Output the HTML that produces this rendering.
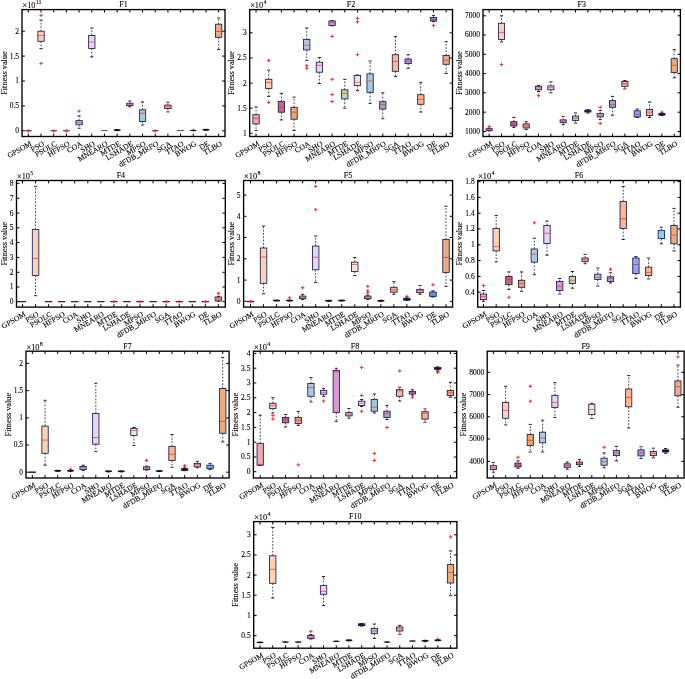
<!DOCTYPE html>
<html lang="en"><head><meta charset="utf-8"><title>Boxplots F1-F10</title>
<style>
html,body{margin:0;padding:0;background:#fff}
body{width:685px;height:679px;overflow:hidden}
svg{display:block}
text{font-family:"Liberation Serif", "DejaVu Serif", serif;fill:#000;stroke:#000;stroke-width:0.1px}
.t{font-size:7.5px}
.ti{font-size:8px}
.xl{font-size:7.7px}
.yl{font-size:8.3px}
.ex{font-size:8.3px}
.ax{fill:none;stroke:#000;stroke-width:1.35}
.tk{fill:none;stroke:#000;stroke-width:1}
.b{stroke:#1a1a5e;stroke-width:0.85}
.m{stroke:#ff1a1a;stroke-width:0.75;stroke-opacity:0.85;fill:none}
.w{stroke:#111;stroke-width:0.75;stroke-dasharray:1.8 1.5;fill:none}
.c{stroke:#111;stroke-width:0.9;fill:none}
.o{stroke:#ff1a1a;stroke-width:0.9;fill:none}
</style></head><body>
<svg width="685" height="679" viewBox="0 0 685 679">
<rect width="685" height="679" fill="#fff"/>
<g>
<path d="M25.27 130.8H31.42" stroke="#4a3580" stroke-width="1.1" stroke-linecap="round"/>
<path d="M25.97 130.8H30.72" stroke="#8a2850" stroke-width="0.5"/>
<path class="o" d="M26.64 130.8H30.04M28.34 129.1V132.5"/>
<path class="w" d="M41.03 31.2V20.1"/>
<path class="w" d="M41.03 41.3V48.7"/>
<path class="c" d="M39.43 20.1H42.63M39.43 48.7H42.63"/>
<rect class="b" x="37.86" y="31.2" width="6.34" height="10.1" fill="#f9d3b4"/>
<path class="m" d="M38.36 35.6H43.7"/>
<path class="o" d="M39.33 15.4H42.73M41.03 13.7V17.1"/>
<path class="o" d="M39.33 63.4H42.73M41.03 61.7V65.1"/>
<path d="M50.65 130.8H56.79" stroke="#4a3580" stroke-width="1.1" stroke-linecap="round"/>
<path d="M51.35 130.8H56.09" stroke="#8a2850" stroke-width="0.5"/>
<path class="o" d="M52.02 130.8H55.42M53.72 129.1V132.5"/>
<path d="M63.33 130.8H69.48" stroke="#4a3580" stroke-width="1.1" stroke-linecap="round"/>
<path d="M64.03 130.8H68.78" stroke="#8a2850" stroke-width="0.5"/>
<path class="o" d="M64.71 130.8H68.11M66.41 129.1V132.5"/>
<path class="w" d="M79.09 120.6V115.9"/>
<path class="w" d="M79.09 124.8V128.2"/>
<path class="c" d="M77.49 115.9H80.69M77.49 128.2H80.69"/>
<rect class="b" x="75.92" y="120.6" width="6.34" height="4.2" fill="#a9cbe2"/>
<path class="m" d="M76.42 122.6H81.77"/>
<path class="o" d="M77.39 111.2H80.79M79.09 109.5V112.9"/>
<path class="w" d="M91.78 35.4V28"/>
<path class="w" d="M91.78 48.5V56.9"/>
<path class="c" d="M90.18 28H93.38M90.18 56.9H93.38"/>
<rect class="b" x="88.61" y="35.4" width="6.34" height="13.1" fill="#e6d6ec"/>
<path class="m" d="M89.11 42H94.45"/>
<path d="M101.4 130.6H107.54" stroke="#6a3a78" stroke-width="0.9" stroke-linecap="round"/>
<path d="M102.1 130.6H106.84" stroke="#8a2850" stroke-width="0.5"/>
<ellipse cx="117.16" cy="130.1" rx="3.57" ry="1.1" fill="#0e0e2c"/>
<path class="w" d="M129.84 103.3V101"/>
<path class="w" d="M129.84 105.6V106.8"/>
<path class="c" d="M128.24 101H131.44M128.24 106.8H131.44"/>
<rect class="b" x="126.67" y="103.3" width="6.34" height="2.3" fill="#f0e9d2"/>
<path class="m" d="M127.17 104.4H132.52"/>
<path class="w" d="M142.53 109.8V101.9"/>
<path class="w" d="M142.53 121.5V125"/>
<path class="c" d="M140.93 101.9H144.13M140.93 125H144.13"/>
<rect class="b" x="139.36" y="109.8" width="6.34" height="11.7" fill="#a2cad8"/>
<path class="m" d="M139.86 113.3H145.2"/>
<path d="M152.15 130.8H158.29" stroke="#4a3580" stroke-width="1.1" stroke-linecap="round"/>
<path d="M152.85 130.8H157.59" stroke="#8a2850" stroke-width="0.5"/>
<path class="o" d="M153.52 130.8H156.92M155.22 129.1V132.5"/>
<path class="w" d="M167.91 105.1V102.2"/>
<path class="w" d="M167.91 108.6V111.9"/>
<path class="c" d="M166.31 102.2H169.51M166.31 111.9H169.51"/>
<rect class="b" x="164.73" y="105.1" width="6.34" height="3.5" fill="#fbb98b"/>
<path class="m" d="M165.23 106.8H170.58"/>
<path d="M177.52 130.5H183.67" stroke="#6a3a78" stroke-width="0.9" stroke-linecap="round"/>
<path d="M178.22 130.5H182.97" stroke="#8a2850" stroke-width="0.5"/>
<path class="o" d="M191.58 130.3H194.98M193.28 128.6V132"/>
<ellipse cx="193.28" cy="130.4" rx="3.57" ry="0.65" fill="#0e0e2c"/>
<ellipse cx="205.97" cy="129.8" rx="3.57" ry="1.1" fill="#0e0e2c"/>
<path class="w" d="M218.66 24.2V18"/>
<path class="w" d="M218.66 37.3V49.6"/>
<path class="c" d="M217.06 18H220.26M217.06 49.6H220.26"/>
<rect class="b" x="215.48" y="24.2" width="6.34" height="13.1" fill="#e9ad7c"/>
<path class="m" d="M215.98 31.5H221.33"/>
<rect class="ax" x="22" y="9.6" width="203" height="126.9"/>
<path class="tk" d="M28.34 136.5v-2.9M28.34 9.6v2.9M41.03 136.5v-2.9M41.03 9.6v2.9M53.72 136.5v-2.9M53.72 9.6v2.9M66.41 136.5v-2.9M66.41 9.6v2.9M79.09 136.5v-2.9M79.09 9.6v2.9M91.78 136.5v-2.9M91.78 9.6v2.9M104.47 136.5v-2.9M104.47 9.6v2.9M117.16 136.5v-2.9M117.16 9.6v2.9M129.84 136.5v-2.9M129.84 9.6v2.9M142.53 136.5v-2.9M142.53 9.6v2.9M155.22 136.5v-2.9M155.22 9.6v2.9M167.91 136.5v-2.9M167.91 9.6v2.9M180.59 136.5v-2.9M180.59 9.6v2.9M193.28 136.5v-2.9M193.28 9.6v2.9M205.97 136.5v-2.9M205.97 9.6v2.9M218.66 136.5v-2.9M218.66 9.6v2.9M22 31.2h2.9M225 31.2h-2.9M22 56.1h2.9M225 56.1h-2.9M22 81h2.9M225 81h-2.9M22 105.9h2.9M225 105.9h-2.9M22 130.8h2.9M225 130.8h-2.9"/>
<text class="t" x="19" y="33.65" text-anchor="end">2</text>
<text class="t" x="19" y="58.55" text-anchor="end">1.5</text>
<text class="t" x="19" y="83.45" text-anchor="end">1</text>
<text class="t" x="19" y="108.35" text-anchor="end">0.5</text>
<text class="t" x="19" y="133.25" text-anchor="end">0</text>
<text class="xl" transform="translate(32.14 145.1) rotate(-30)" text-anchor="end">GPSOM</text>
<text class="xl" transform="translate(44.83 145.1) rotate(-30)" text-anchor="end">PSO</text>
<text class="xl" transform="translate(57.52 145.1) rotate(-30)" text-anchor="end">PSOLC</text>
<text class="xl" transform="translate(70.21 145.1) rotate(-30)" text-anchor="end">HFPSO</text>
<text class="xl" transform="translate(82.89 145.1) rotate(-30)" text-anchor="end">COA</text>
<text class="xl" transform="translate(95.58 145.1) rotate(-30)" text-anchor="end">SHO</text>
<text class="xl" transform="translate(108.27 145.1) rotate(-30)" text-anchor="end">MNEARO</text>
<text class="xl" transform="translate(120.96 145.1) rotate(-30)" text-anchor="end">MTDE</text>
<text class="xl" transform="translate(133.64 145.1) rotate(-30)" text-anchor="end">LSHADE</text>
<text class="xl" transform="translate(146.33 145.1) rotate(-30)" text-anchor="end">MPSO</text>
<text class="xl" transform="translate(159.02 145.1) rotate(-30)" text-anchor="end">dFDB_MRFO</text>
<text class="xl" transform="translate(171.71 145.1) rotate(-30)" text-anchor="end">SGA</text>
<text class="xl" transform="translate(184.39 145.1) rotate(-30)" text-anchor="end">TTAO</text>
<text class="xl" transform="translate(197.08 145.1) rotate(-30)" text-anchor="end">BWOG</text>
<text class="xl" transform="translate(209.77 145.1) rotate(-30)" text-anchor="end">DE</text>
<text class="xl" transform="translate(222.46 145.1) rotate(-30)" text-anchor="end">TLBO</text>
<text class="ti" x="123.5" y="6.9" text-anchor="middle">F1</text>
<text class="ex" x="22.5" y="8.1">×10<tspan dx="0.3" dy="-3.7" font-size="6">11</tspan></text>
<text class="yl" transform="translate(6.6 73.05) rotate(-90)" text-anchor="middle">Fitness value</text>
</g>
<g>
<path class="w" d="M256.04 114.7V107"/>
<path class="w" d="M256.04 123.9V130.6"/>
<path class="c" d="M254.44 107H257.64M254.44 130.6H257.64"/>
<rect class="b" x="252.87" y="114.7" width="6.34" height="9.2" fill="#f4a6ae"/>
<path class="m" d="M253.37 118.3H258.71"/>
<path class="w" d="M268.71 79.3V70.1"/>
<path class="w" d="M268.71 88.4V96.4"/>
<path class="c" d="M267.11 70.1H270.31M267.11 96.4H270.31"/>
<rect class="b" x="265.54" y="79.3" width="6.34" height="9.1" fill="#f9d3b4"/>
<path class="m" d="M266.04 82.4H271.38"/>
<path class="o" d="M267.01 60.4H270.41M268.71 58.7V62.1"/>
<path class="o" d="M267.01 102.4H270.41M268.71 100.7V104.1"/>
<path class="w" d="M281.39 101.5V93.3"/>
<path class="w" d="M281.39 112.2V119.9"/>
<path class="c" d="M279.79 93.3H282.99M279.79 119.9H282.99"/>
<rect class="b" x="278.22" y="101.5" width="6.34" height="10.7" fill="#c06a80"/>
<path class="m" d="M278.72 107.8H284.06"/>
<path class="w" d="M294.06 107.3V97.1"/>
<path class="w" d="M294.06 119.2V130.4"/>
<path class="c" d="M292.46 97.1H295.66M292.46 130.4H295.66"/>
<rect class="b" x="290.89" y="107.3" width="6.34" height="11.9" fill="#eaa768"/>
<path class="m" d="M291.39 112.2H296.73"/>
<path class="w" d="M306.74 39.4V28"/>
<path class="w" d="M306.74 49.9V60.4"/>
<path class="c" d="M305.14 28H308.34M305.14 60.4H308.34"/>
<rect class="b" x="303.57" y="39.4" width="6.34" height="10.5" fill="#a9cbe2"/>
<path class="m" d="M304.07 45.2H309.41"/>
<path class="o" d="M305.04 65.7H308.44M306.74 64V67.4"/>
<path class="o" d="M305.04 68.3H308.44M306.74 66.6V70"/>
<path class="w" d="M319.41 62.2V57.5"/>
<path class="w" d="M319.41 72.2V83.5"/>
<path class="c" d="M317.81 57.5H321.01M317.81 83.5H321.01"/>
<rect class="b" x="316.24" y="62.2" width="6.34" height="10" fill="#e6d6ec"/>
<path class="m" d="M316.74 65.3H322.08"/>
<path class="w" d="M332.09 21V20.6"/>
<path class="w" d="M332.09 25.4V25.8"/>
<path class="c" d="M330.49 20.6H333.69M330.49 25.8H333.69"/>
<rect class="b" x="328.92" y="21" width="6.34" height="4.4" fill="#d79ad2"/>
<path class="m" d="M329.42 22.8H334.76"/>
<path class="o" d="M330.39 36.4H333.79M332.09 34.7V38.1"/>
<path class="o" d="M330.39 79.4H333.79M332.09 77.7V81.1"/>
<path class="o" d="M330.39 94.5H333.79M332.09 92.8V96.2"/>
<path class="o" d="M330.39 101.5H333.79M332.09 99.8V103.2"/>
<path class="w" d="M344.76 89.8V79.4"/>
<path class="w" d="M344.76 98.9V108.2"/>
<path class="c" d="M343.16 79.4H346.36M343.16 108.2H346.36"/>
<rect class="b" x="341.59" y="89.8" width="6.34" height="9.1" fill="#b9d9b2"/>
<path class="m" d="M342.09 93.3H347.43"/>
<path class="w" d="M357.44 75.4V75"/>
<path class="w" d="M357.44 85.4V90.7"/>
<path class="c" d="M355.84 75H359.04M355.84 90.7H359.04"/>
<rect class="b" x="354.27" y="75.4" width="6.34" height="10" fill="#f0e9d2"/>
<path class="m" d="M354.77 82.2H360.11"/>
<path class="o" d="M355.74 18.4H359.14M357.44 16.7V20.1"/>
<path class="o" d="M355.74 21.9H359.14M357.44 20.2V23.6"/>
<path class="o" d="M355.74 54.7H359.14M357.44 53V56.4"/>
<path class="w" d="M370.11 73.8V61"/>
<path class="w" d="M370.11 92.4V103.4"/>
<path class="c" d="M368.51 61H371.71M368.51 103.4H371.71"/>
<rect class="b" x="366.94" y="73.8" width="6.34" height="18.6" fill="#a2cad8"/>
<path class="m" d="M367.44 81H372.78"/>
<path class="w" d="M382.79 101.7V92.8"/>
<path class="w" d="M382.79 109.1V118.7"/>
<path class="c" d="M381.19 92.8H384.39M381.19 118.7H384.39"/>
<rect class="b" x="379.62" y="101.7" width="6.34" height="7.4" fill="#a2a6c6"/>
<path class="m" d="M380.12 104.7H385.46"/>
<path class="w" d="M395.46 54.7V36.4"/>
<path class="w" d="M395.46 71.3V76.6"/>
<path class="c" d="M393.86 36.4H397.06M393.86 76.6H397.06"/>
<rect class="b" x="392.29" y="54.7" width="6.34" height="16.6" fill="#fbb98b"/>
<path class="m" d="M392.79 61.3H398.13"/>
<path class="w" d="M408.14 59V54.7"/>
<path class="w" d="M408.14 63.6V68.3"/>
<path class="c" d="M406.54 54.7H409.74M406.54 68.3H409.74"/>
<rect class="b" x="404.97" y="59" width="6.34" height="4.6" fill="#94a4e4"/>
<path class="m" d="M405.47 61.3H410.81"/>
<path class="w" d="M420.81 94.7V82.4"/>
<path class="w" d="M420.81 104.3V112"/>
<path class="c" d="M419.21 82.4H422.41M419.21 112H422.41"/>
<rect class="b" x="417.64" y="94.7" width="6.34" height="9.6" fill="#f9b48a"/>
<path class="m" d="M418.14 99.4H423.48"/>
<path class="w" d="M433.49 17.5V15.4"/>
<path class="w" d="M433.49 21V21.6"/>
<path class="c" d="M431.89 15.4H435.09M431.89 21.6H435.09"/>
<rect class="b" x="430.32" y="17.5" width="6.34" height="3.5" fill="#6f9bd0"/>
<path class="m" d="M430.82 19.3H436.16"/>
<path class="o" d="M431.79 25.4H435.19M433.49 23.7V27.1"/>
<path class="w" d="M446.16 55.5V41.7"/>
<path class="w" d="M446.16 64.3V73.5"/>
<path class="c" d="M444.56 41.7H447.76M444.56 73.5H447.76"/>
<rect class="b" x="442.99" y="55.5" width="6.34" height="8.8" fill="#e9ad7c"/>
<path class="m" d="M443.49 60.1H448.83"/>
<rect class="ax" x="249.7" y="9.6" width="202.8" height="126.9"/>
<path class="tk" d="M256.04 136.5v-2.9M256.04 9.6v2.9M268.71 136.5v-2.9M268.71 9.6v2.9M281.39 136.5v-2.9M281.39 9.6v2.9M294.06 136.5v-2.9M294.06 9.6v2.9M306.74 136.5v-2.9M306.74 9.6v2.9M319.41 136.5v-2.9M319.41 9.6v2.9M332.09 136.5v-2.9M332.09 9.6v2.9M344.76 136.5v-2.9M344.76 9.6v2.9M357.44 136.5v-2.9M357.44 9.6v2.9M370.11 136.5v-2.9M370.11 9.6v2.9M382.79 136.5v-2.9M382.79 9.6v2.9M395.46 136.5v-2.9M395.46 9.6v2.9M408.14 136.5v-2.9M408.14 9.6v2.9M420.81 136.5v-2.9M420.81 9.6v2.9M433.49 136.5v-2.9M433.49 9.6v2.9M446.16 136.5v-2.9M446.16 9.6v2.9M249.7 32.8h2.9M452.5 32.8h-2.9M249.7 58h2.9M452.5 58h-2.9M249.7 83.1h2.9M452.5 83.1h-2.9M249.7 108.2h2.9M452.5 108.2h-2.9M249.7 133.2h2.9M452.5 133.2h-2.9"/>
<text class="t" x="246.7" y="35.25" text-anchor="end">3</text>
<text class="t" x="246.7" y="60.45" text-anchor="end">2.5</text>
<text class="t" x="246.7" y="85.55" text-anchor="end">2</text>
<text class="t" x="246.7" y="110.65" text-anchor="end">1.5</text>
<text class="t" x="246.7" y="135.65" text-anchor="end">1</text>
<text class="xl" transform="translate(259.84 145.1) rotate(-30)" text-anchor="end">GPSOM</text>
<text class="xl" transform="translate(272.51 145.1) rotate(-30)" text-anchor="end">PSO</text>
<text class="xl" transform="translate(285.19 145.1) rotate(-30)" text-anchor="end">PSOLC</text>
<text class="xl" transform="translate(297.86 145.1) rotate(-30)" text-anchor="end">HFPSO</text>
<text class="xl" transform="translate(310.54 145.1) rotate(-30)" text-anchor="end">COA</text>
<text class="xl" transform="translate(323.21 145.1) rotate(-30)" text-anchor="end">SHO</text>
<text class="xl" transform="translate(335.89 145.1) rotate(-30)" text-anchor="end">MNEARO</text>
<text class="xl" transform="translate(348.56 145.1) rotate(-30)" text-anchor="end">MTDE</text>
<text class="xl" transform="translate(361.24 145.1) rotate(-30)" text-anchor="end">LSHADE</text>
<text class="xl" transform="translate(373.91 145.1) rotate(-30)" text-anchor="end">MPSO</text>
<text class="xl" transform="translate(386.59 145.1) rotate(-30)" text-anchor="end">dFDB_MRFO</text>
<text class="xl" transform="translate(399.26 145.1) rotate(-30)" text-anchor="end">SGA</text>
<text class="xl" transform="translate(411.94 145.1) rotate(-30)" text-anchor="end">TTAO</text>
<text class="xl" transform="translate(424.61 145.1) rotate(-30)" text-anchor="end">BWOG</text>
<text class="xl" transform="translate(437.29 145.1) rotate(-30)" text-anchor="end">DE</text>
<text class="xl" transform="translate(449.96 145.1) rotate(-30)" text-anchor="end">TLBO</text>
<text class="ti" x="351.1" y="6.9" text-anchor="middle">F2</text>
<text class="ex" x="250.2" y="8.1">×10<tspan dx="0.3" dy="-3.7" font-size="6">4</tspan></text>
<text class="yl" transform="translate(234.4 73.05) rotate(-90)" text-anchor="middle">Fitness value</text>
</g>
<g>
<path class="w" d="M489.17 128.7V128.2"/>
<path class="w" d="M489.17 130.6V131"/>
<path class="c" d="M487.57 128.2H490.77M487.57 131H490.77"/>
<rect class="b" x="486.08" y="128.7" width="6.17" height="1.9" fill="#f4a6ae"/>
<path class="m" d="M486.58 129.8H491.75"/>
<path class="o" d="M487.47 126.6H490.87M489.17 124.9V128.3"/>
<path class="w" d="M501.51 23.3V15.8"/>
<path class="w" d="M501.51 39.4V42"/>
<path class="c" d="M499.91 15.8H503.11M499.91 42H503.11"/>
<rect class="b" x="498.42" y="23.3" width="6.17" height="16.1" fill="#f9d3b4"/>
<path class="m" d="M498.92 32.4H504.09"/>
<path class="o" d="M499.81 64.5H503.21M501.51 62.8V66.2"/>
<path class="w" d="M513.84 121.7V117.3"/>
<path class="w" d="M513.84 126V127.4"/>
<path class="c" d="M512.24 117.3H515.44M512.24 127.4H515.44"/>
<rect class="b" x="510.76" y="121.7" width="6.17" height="4.3" fill="#c06a80"/>
<path class="m" d="M511.26 123.9H516.43"/>
<path class="w" d="M526.18 123.9V121.7"/>
<path class="w" d="M526.18 128V129.6"/>
<path class="c" d="M524.58 121.7H527.78M524.58 129.6H527.78"/>
<rect class="b" x="523.1" y="123.9" width="6.17" height="4.1" fill="#eaa768"/>
<path class="m" d="M523.6 126H528.77"/>
<path class="w" d="M538.52 86.3V85.4"/>
<path class="w" d="M538.52 89.8V91.5"/>
<path class="c" d="M536.92 85.4H540.12M536.92 91.5H540.12"/>
<rect class="b" x="535.43" y="86.3" width="6.17" height="3.5" fill="#a9cbe2"/>
<path class="m" d="M535.93 88H541.1"/>
<path class="o" d="M536.82 95.6H540.22M538.52 93.9V97.3"/>
<path class="w" d="M550.86 85.9V81.9"/>
<path class="w" d="M550.86 89.8V92.8"/>
<path class="c" d="M549.26 81.9H552.46M549.26 92.8H552.46"/>
<rect class="b" x="547.77" y="85.9" width="6.17" height="3.9" fill="#e6d6ec"/>
<path class="m" d="M548.27 87.7H553.44"/>
<path class="w" d="M563.19 119.9V116.4"/>
<path class="w" d="M563.19 122.7V124.8"/>
<path class="c" d="M561.59 116.4H564.79M561.59 124.8H564.79"/>
<rect class="b" x="560.11" y="119.9" width="6.17" height="2.8" fill="#d79ad2"/>
<path class="m" d="M560.61 121.3H565.78"/>
<path class="w" d="M575.53 116.1V112.9"/>
<path class="w" d="M575.53 120.4V123.1"/>
<path class="c" d="M573.93 112.9H577.13M573.93 123.1H577.13"/>
<rect class="b" x="572.45" y="116.1" width="6.17" height="4.3" fill="#b9d9b2"/>
<path class="m" d="M572.95 118.2H578.12"/>
<path class="w" d="M587.87 110.2V109.6"/>
<path class="w" d="M587.87 112V113.1"/>
<path class="c" d="M586.27 109.6H589.47M586.27 113.1H589.47"/>
<rect class="b" x="584.78" y="110.2" width="6.17" height="1.8" fill="#2a1626"/>
<path class="w" d="M600.21 113.4V110.5"/>
<path class="w" d="M600.21 116.9V119.6"/>
<path class="c" d="M598.61 110.5H601.81M598.61 119.6H601.81"/>
<rect class="b" x="597.12" y="113.4" width="6.17" height="3.5" fill="#a2cad8"/>
<path class="m" d="M597.62 115.2H602.79"/>
<path class="o" d="M598.51 107.3H601.91M600.21 105.6V109"/>
<path class="o" d="M598.51 123.4H601.91M600.21 121.7V125.1"/>
<path class="w" d="M612.54 100.6V96.4"/>
<path class="w" d="M612.54 107.3V115.2"/>
<path class="c" d="M610.94 96.4H614.14M610.94 115.2H614.14"/>
<rect class="b" x="609.46" y="100.6" width="6.17" height="6.7" fill="#a2a6c6"/>
<path class="m" d="M609.96 104.7H615.13"/>
<path class="w" d="M624.88 81.4V80.5"/>
<path class="w" d="M624.88 86.3V88.9"/>
<path class="c" d="M623.28 80.5H626.48M623.28 88.9H626.48"/>
<rect class="b" x="621.8" y="81.4" width="6.17" height="4.9" fill="#fbb98b"/>
<path class="m" d="M622.3 83.7H627.47"/>
<path class="w" d="M637.22 110.8V109.1"/>
<path class="w" d="M637.22 116.9V117.5"/>
<path class="c" d="M635.62 109.1H638.82M635.62 117.5H638.82"/>
<rect class="b" x="634.13" y="110.8" width="6.17" height="6.1" fill="#94a4e4"/>
<path class="m" d="M634.63 114.3H639.8"/>
<path class="w" d="M649.56 109.6V102"/>
<path class="w" d="M649.56 115.5V117.5"/>
<path class="c" d="M647.96 102H651.16M647.96 117.5H651.16"/>
<rect class="b" x="646.47" y="109.6" width="6.17" height="5.9" fill="#f9b48a"/>
<path class="m" d="M646.97 112.2H652.14"/>
<path class="o" d="M660.19 112.2H663.59M661.89 110.5V113.9"/>
<path class="w" d="M661.89 115.1V115.4"/>
<path class="c" d="M660.29 113.2H663.49M660.29 115.4H663.49"/>
<rect class="b" x="658.81" y="113.5" width="6.17" height="1.6" fill="#14142e"/>
<path class="w" d="M674.23 58.7V49.6"/>
<path class="w" d="M674.23 72.4V77.8"/>
<path class="c" d="M672.63 49.6H675.83M672.63 77.8H675.83"/>
<rect class="b" x="671.15" y="58.7" width="6.17" height="13.7" fill="#e9ad7c"/>
<path class="m" d="M671.65 65.3H676.82"/>
<rect class="ax" x="483" y="9.6" width="197.4" height="126.9"/>
<path class="tk" d="M489.17 136.5v-2.9M489.17 9.6v2.9M501.51 136.5v-2.9M501.51 9.6v2.9M513.84 136.5v-2.9M513.84 9.6v2.9M526.18 136.5v-2.9M526.18 9.6v2.9M538.52 136.5v-2.9M538.52 9.6v2.9M550.86 136.5v-2.9M550.86 9.6v2.9M563.19 136.5v-2.9M563.19 9.6v2.9M575.53 136.5v-2.9M575.53 9.6v2.9M587.87 136.5v-2.9M587.87 9.6v2.9M600.21 136.5v-2.9M600.21 9.6v2.9M612.54 136.5v-2.9M612.54 9.6v2.9M624.88 136.5v-2.9M624.88 9.6v2.9M637.22 136.5v-2.9M637.22 9.6v2.9M649.56 136.5v-2.9M649.56 9.6v2.9M661.89 136.5v-2.9M661.89 9.6v2.9M674.23 136.5v-2.9M674.23 9.6v2.9M483 15.8h2.9M680.4 15.8h-2.9M483 35h2.9M680.4 35h-2.9M483 54.3h2.9M680.4 54.3h-2.9M483 73.6h2.9M680.4 73.6h-2.9M483 92.8h2.9M680.4 92.8h-2.9M483 112.2h2.9M680.4 112.2h-2.9M483 131.5h2.9M680.4 131.5h-2.9"/>
<text class="t" x="480" y="18.25" text-anchor="end">7000</text>
<text class="t" x="480" y="37.45" text-anchor="end">6000</text>
<text class="t" x="480" y="56.75" text-anchor="end">5000</text>
<text class="t" x="480" y="76.05" text-anchor="end">4000</text>
<text class="t" x="480" y="95.25" text-anchor="end">3000</text>
<text class="t" x="480" y="114.65" text-anchor="end">2000</text>
<text class="t" x="480" y="133.95" text-anchor="end">1000</text>
<text class="xl" transform="translate(492.97 145.1) rotate(-30)" text-anchor="end">GPSOM</text>
<text class="xl" transform="translate(505.31 145.1) rotate(-30)" text-anchor="end">PSO</text>
<text class="xl" transform="translate(517.64 145.1) rotate(-30)" text-anchor="end">PSOLC</text>
<text class="xl" transform="translate(529.98 145.1) rotate(-30)" text-anchor="end">HFPSO</text>
<text class="xl" transform="translate(542.32 145.1) rotate(-30)" text-anchor="end">COA</text>
<text class="xl" transform="translate(554.66 145.1) rotate(-30)" text-anchor="end">SHO</text>
<text class="xl" transform="translate(566.99 145.1) rotate(-30)" text-anchor="end">MNEARO</text>
<text class="xl" transform="translate(579.33 145.1) rotate(-30)" text-anchor="end">MTDE</text>
<text class="xl" transform="translate(591.67 145.1) rotate(-30)" text-anchor="end">LSHADE</text>
<text class="xl" transform="translate(604.01 145.1) rotate(-30)" text-anchor="end">MPSO</text>
<text class="xl" transform="translate(616.34 145.1) rotate(-30)" text-anchor="end">dFDB_MRFO</text>
<text class="xl" transform="translate(628.68 145.1) rotate(-30)" text-anchor="end">SGA</text>
<text class="xl" transform="translate(641.02 145.1) rotate(-30)" text-anchor="end">TTAO</text>
<text class="xl" transform="translate(653.36 145.1) rotate(-30)" text-anchor="end">BWOG</text>
<text class="xl" transform="translate(665.69 145.1) rotate(-30)" text-anchor="end">DE</text>
<text class="xl" transform="translate(678.03 145.1) rotate(-30)" text-anchor="end">TLBO</text>
<text class="ti" x="581.7" y="6.9" text-anchor="middle">F3</text>
<text class="yl" transform="translate(462.1 73.05) rotate(-90)" text-anchor="middle">Fitness value</text>
</g>
<g>
<path d="M19.34 301.6H25.66" stroke="#34123a" stroke-width="1.35" stroke-linecap="round"/>
<path d="M20.04 301.6H24.96" stroke="#8a2850" stroke-width="0.5"/>
<path class="w" d="M35.56 229.5V186.4"/>
<path class="w" d="M35.56 275.4V295.7"/>
<path class="c" d="M33.96 186.4H37.16M33.96 295.7H37.16"/>
<rect class="b" x="32.3" y="229.5" width="6.53" height="45.9" fill="#f9d3b4"/>
<path class="m" d="M32.8 258.4H38.33"/>
<path d="M45.46 301.6H51.79" stroke="#34123a" stroke-width="1.35" stroke-linecap="round"/>
<path d="M46.16 301.6H51.09" stroke="#8a2850" stroke-width="0.5"/>
<path d="M58.52 301.6H64.84" stroke="#34123a" stroke-width="1.35" stroke-linecap="round"/>
<path d="M59.21 301.6H64.14" stroke="#8a2850" stroke-width="0.5"/>
<path d="M71.58 301.6H77.91" stroke="#34123a" stroke-width="1.35" stroke-linecap="round"/>
<path d="M72.28 301.6H77.21" stroke="#8a2850" stroke-width="0.5"/>
<path d="M84.63 301.6H90.97" stroke="#34123a" stroke-width="1.35" stroke-linecap="round"/>
<path d="M85.33 301.6H90.27" stroke="#8a2850" stroke-width="0.5"/>
<path d="M97.69 301.6H104.03" stroke="#34123a" stroke-width="1.35" stroke-linecap="round"/>
<path d="M98.39 301.6H103.33" stroke="#8a2850" stroke-width="0.5"/>
<path d="M110.75 301.6H117.09" stroke="#34123a" stroke-width="1.35" stroke-linecap="round"/>
<path d="M111.45 301.6H116.39" stroke="#8a2850" stroke-width="0.5"/>
<path class="o" d="M112.22 301.6H115.62M113.92 299.9V303.3"/>
<path d="M123.81 301.6H130.15" stroke="#34123a" stroke-width="1.35" stroke-linecap="round"/>
<path d="M124.52 301.6H129.44" stroke="#8a2850" stroke-width="0.5"/>
<path d="M136.88 301.6H143.21" stroke="#34123a" stroke-width="1.35" stroke-linecap="round"/>
<path d="M137.58 301.6H142.5" stroke="#8a2850" stroke-width="0.5"/>
<path class="o" d="M138.34 301.6H141.74M140.04 299.9V303.3"/>
<path d="M149.94 301.6H156.26" stroke="#34123a" stroke-width="1.35" stroke-linecap="round"/>
<path d="M150.64 301.6H155.56" stroke="#8a2850" stroke-width="0.5"/>
<path d="M163 301.6H169.32" stroke="#34123a" stroke-width="1.35" stroke-linecap="round"/>
<path d="M163.7 301.6H168.62" stroke="#8a2850" stroke-width="0.5"/>
<path class="o" d="M164.46 301.6H167.86M166.16 299.9V303.3"/>
<path d="M176.06 301.6H182.38" stroke="#34123a" stroke-width="1.35" stroke-linecap="round"/>
<path d="M176.76 301.6H181.68" stroke="#8a2850" stroke-width="0.5"/>
<path class="o" d="M177.52 301.6H180.92M179.22 299.9V303.3"/>
<path d="M189.12 301.6H195.44" stroke="#34123a" stroke-width="1.35" stroke-linecap="round"/>
<path d="M189.82 301.6H194.74" stroke="#8a2850" stroke-width="0.5"/>
<path d="M202.18 301.6H208.5" stroke="#34123a" stroke-width="1.35" stroke-linecap="round"/>
<path d="M202.88 301.6H207.8" stroke="#8a2850" stroke-width="0.5"/>
<path class="o" d="M203.64 301.6H207.04M205.34 299.9V303.3"/>
<path class="w" d="M218.4 297V296.3"/>
<path class="w" d="M218.4 300.9V301.3"/>
<path class="c" d="M216.8 296.3H220M216.8 301.3H220"/>
<rect class="b" x="215.14" y="297" width="6.53" height="3.9" fill="#e9ad7c"/>
<path class="m" d="M215.64 299H221.16"/>
<path class="o" d="M216.7 293.4H220.1M218.4 291.7V295.1"/>
<rect class="ax" x="16.5" y="180.5" width="208.8" height="126.6"/>
<path class="tk" d="M22.5 307.1v-2.9M22.5 180.5v2.9M35.56 307.1v-2.9M35.56 180.5v2.9M48.62 307.1v-2.9M48.62 180.5v2.9M61.68 307.1v-2.9M61.68 180.5v2.9M74.74 307.1v-2.9M74.74 180.5v2.9M87.8 307.1v-2.9M87.8 180.5v2.9M100.86 307.1v-2.9M100.86 180.5v2.9M113.92 307.1v-2.9M113.92 180.5v2.9M126.98 307.1v-2.9M126.98 180.5v2.9M140.04 307.1v-2.9M140.04 180.5v2.9M153.1 307.1v-2.9M153.1 180.5v2.9M166.16 307.1v-2.9M166.16 180.5v2.9M179.22 307.1v-2.9M179.22 180.5v2.9M192.28 307.1v-2.9M192.28 180.5v2.9M205.34 307.1v-2.9M205.34 180.5v2.9M218.4 307.1v-2.9M218.4 180.5v2.9M16.5 183.4h2.9M225.3 183.4h-2.9M16.5 198.3h2.9M225.3 198.3h-2.9M16.5 213.1h2.9M225.3 213.1h-2.9M16.5 227.8h2.9M225.3 227.8h-2.9M16.5 242.5h2.9M225.3 242.5h-2.9M16.5 257.4h2.9M225.3 257.4h-2.9M16.5 272.3h2.9M225.3 272.3h-2.9M16.5 287h2.9M225.3 287h-2.9M16.5 301.7h2.9M225.3 301.7h-2.9"/>
<text class="t" x="13.5" y="185.85" text-anchor="end">8</text>
<text class="t" x="13.5" y="200.75" text-anchor="end">7</text>
<text class="t" x="13.5" y="215.55" text-anchor="end">6</text>
<text class="t" x="13.5" y="230.25" text-anchor="end">5</text>
<text class="t" x="13.5" y="244.95" text-anchor="end">4</text>
<text class="t" x="13.5" y="259.85" text-anchor="end">3</text>
<text class="t" x="13.5" y="274.75" text-anchor="end">2</text>
<text class="t" x="13.5" y="289.45" text-anchor="end">1</text>
<text class="t" x="13.5" y="304.15" text-anchor="end">0</text>
<text class="xl" transform="translate(26.3 315.7) rotate(-30)" text-anchor="end">GPSOM</text>
<text class="xl" transform="translate(39.36 315.7) rotate(-30)" text-anchor="end">PSO</text>
<text class="xl" transform="translate(52.42 315.7) rotate(-30)" text-anchor="end">PSOLC</text>
<text class="xl" transform="translate(65.48 315.7) rotate(-30)" text-anchor="end">HFPSO</text>
<text class="xl" transform="translate(78.54 315.7) rotate(-30)" text-anchor="end">COA</text>
<text class="xl" transform="translate(91.6 315.7) rotate(-30)" text-anchor="end">SHO</text>
<text class="xl" transform="translate(104.66 315.7) rotate(-30)" text-anchor="end">MNEARO</text>
<text class="xl" transform="translate(117.72 315.7) rotate(-30)" text-anchor="end">MTDE</text>
<text class="xl" transform="translate(130.78 315.7) rotate(-30)" text-anchor="end">LSHADE</text>
<text class="xl" transform="translate(143.84 315.7) rotate(-30)" text-anchor="end">MPSO</text>
<text class="xl" transform="translate(156.9 315.7) rotate(-30)" text-anchor="end">dFDB_MRFO</text>
<text class="xl" transform="translate(169.96 315.7) rotate(-30)" text-anchor="end">SGA</text>
<text class="xl" transform="translate(183.02 315.7) rotate(-30)" text-anchor="end">TTAO</text>
<text class="xl" transform="translate(196.08 315.7) rotate(-30)" text-anchor="end">BWOG</text>
<text class="xl" transform="translate(209.14 315.7) rotate(-30)" text-anchor="end">DE</text>
<text class="xl" transform="translate(222.2 315.7) rotate(-30)" text-anchor="end">TLBO</text>
<text class="ti" x="120.9" y="177.8" text-anchor="middle">F4</text>
<text class="ex" x="17" y="179">×10<tspan dx="0.3" dy="-3.7" font-size="6">5</tspan></text>
<text class="yl" transform="translate(6.7 243.8) rotate(-90)" text-anchor="middle">Fitness value</text>
</g>
<g>
<path d="M247.34 301.5H253.66" stroke="#34123a" stroke-width="1.35" stroke-linecap="round"/>
<path d="M248.04 301.5H252.96" stroke="#8a2850" stroke-width="0.5"/>
<path class="o" d="M248.8 301.5H252.2M250.5 299.8V303.2"/>
<path class="w" d="M263.53 248V226"/>
<path class="w" d="M263.53 283.3V293.8"/>
<path class="c" d="M261.93 226H265.13M261.93 293.8H265.13"/>
<rect class="b" x="260.28" y="248" width="6.52" height="35.3" fill="#f9d3b4"/>
<path class="m" d="M260.78 257H266.29"/>
<ellipse cx="276.57" cy="300.5" rx="3.66" ry="1.1" fill="#0e0e2c"/>
<path class="o" d="M287.9 297.8H291.3M289.6 296.1V299.5"/>
<ellipse cx="289.6" cy="300.6" rx="3.66" ry="1.1" fill="#0e0e2c"/>
<path class="w" d="M302.63 296.1V294.3"/>
<path class="w" d="M302.63 298.7V299.6"/>
<path class="c" d="M301.03 294.3H304.23M301.03 299.6H304.23"/>
<rect class="b" x="299.38" y="296.1" width="6.52" height="2.6" fill="#a9cbe2"/>
<path class="m" d="M299.88 297.3H305.39"/>
<path class="o" d="M300.93 287.7H304.33M302.63 286V289.4"/>
<path class="w" d="M315.67 246.1V236"/>
<path class="w" d="M315.67 269.8V282.6"/>
<path class="c" d="M314.07 236H317.27M314.07 282.6H317.27"/>
<rect class="b" x="312.41" y="246.1" width="6.52" height="23.7" fill="#e6d6ec"/>
<path class="m" d="M312.91 257.2H318.43"/>
<path class="o" d="M313.97 186.4H317.37M315.67 184.7V188.1"/>
<path class="o" d="M313.97 209.7H317.37M315.67 208V211.4"/>
<ellipse cx="328.7" cy="300.8" rx="3.66" ry="1.1" fill="#0e0e2c"/>
<ellipse cx="341.73" cy="300.6" rx="3.66" ry="1.1" fill="#0e0e2c"/>
<path class="w" d="M354.77 262.2V257.5"/>
<path class="w" d="M354.77 271.5V275.6"/>
<path class="c" d="M353.17 257.5H356.37M353.17 275.6H356.37"/>
<rect class="b" x="351.51" y="262.2" width="6.52" height="9.3" fill="#f0e9d2"/>
<path class="m" d="M352.01 264.5H357.52"/>
<path class="w" d="M367.8 296.1V295.2"/>
<path class="w" d="M367.8 298.7V299.6"/>
<path class="c" d="M366.2 295.2H369.4M366.2 299.6H369.4"/>
<rect class="b" x="364.54" y="296.1" width="6.52" height="2.6" fill="#a2cad8"/>
<path class="m" d="M365.04 297.3H370.56"/>
<path class="o" d="M366.1 286.4H369.5M367.8 284.7V288.1"/>
<path class="o" d="M366.1 290.8H369.5M367.8 289.1V292.5"/>
<path class="o" d="M366.1 292.9H369.5M367.8 291.2V294.6"/>
<ellipse cx="380.83" cy="300.8" rx="3.66" ry="1.1" fill="#0e0e2c"/>
<path class="w" d="M393.87 287.3V281.7"/>
<path class="w" d="M393.87 292.2V294.3"/>
<path class="c" d="M392.27 281.7H395.47M392.27 294.3H395.47"/>
<rect class="b" x="390.61" y="287.3" width="6.52" height="4.9" fill="#fbb98b"/>
<path class="m" d="M391.11 289.9H396.62"/>
<path class="o" d="M405.2 296.4H408.6M406.9 294.7V298.1"/>
<path class="w" d="M406.9 298.3V297.9"/>
<path class="c" d="M405.3 297.9H408.5M405.3 300.4H408.5"/>
<rect class="b" x="403.64" y="298.3" width="6.52" height="1.8" fill="#14142e"/>
<path class="w" d="M419.93 289.4V285.6"/>
<path class="w" d="M419.93 292.6V294.3"/>
<path class="c" d="M418.33 285.6H421.53M418.33 294.3H421.53"/>
<rect class="b" x="416.68" y="289.4" width="6.52" height="3.2" fill="#f9b48a"/>
<path class="m" d="M417.18 290.8H422.69"/>
<path class="w" d="M432.97 292V290.8"/>
<path class="w" d="M432.97 296.4V297"/>
<path class="c" d="M431.37 290.8H434.57M431.37 297H434.57"/>
<rect class="b" x="429.71" y="292" width="6.52" height="4.4" fill="#5f93c6"/>
<path class="m" style="stroke:#6f9fcc;stroke-opacity:1" d="M430.21 293.4H435.73"/>
<path class="o" d="M431.27 284.7H434.67M432.97 283V286.4"/>
<path class="w" d="M446 239.5V206.2"/>
<path class="w" d="M446 272.4V286.4"/>
<path class="c" d="M444.4 206.2H447.6M444.4 286.4H447.6"/>
<rect class="b" x="442.74" y="239.5" width="6.52" height="32.9" fill="#e9ad7c"/>
<path class="m" d="M443.24 257.5H448.76"/>
<rect class="ax" x="243.6" y="180.5" width="209" height="126.6"/>
<path class="tk" d="M250.5 307.1v-2.9M250.5 180.5v2.9M263.53 307.1v-2.9M263.53 180.5v2.9M276.57 307.1v-2.9M276.57 180.5v2.9M289.6 307.1v-2.9M289.6 180.5v2.9M302.63 307.1v-2.9M302.63 180.5v2.9M315.67 307.1v-2.9M315.67 180.5v2.9M328.7 307.1v-2.9M328.7 180.5v2.9M341.73 307.1v-2.9M341.73 180.5v2.9M354.77 307.1v-2.9M354.77 180.5v2.9M367.8 307.1v-2.9M367.8 180.5v2.9M380.83 307.1v-2.9M380.83 180.5v2.9M393.87 307.1v-2.9M393.87 180.5v2.9M406.9 307.1v-2.9M406.9 180.5v2.9M419.93 307.1v-2.9M419.93 180.5v2.9M432.97 307.1v-2.9M432.97 180.5v2.9M446 307.1v-2.9M446 180.5v2.9M243.6 195.1h2.9M452.6 195.1h-2.9M243.6 216.3h2.9M452.6 216.3h-2.9M243.6 237.5h2.9M452.6 237.5h-2.9M243.6 258.8h2.9M452.6 258.8h-2.9M243.6 280.1h2.9M452.6 280.1h-2.9M243.6 301.3h2.9M452.6 301.3h-2.9"/>
<text class="t" x="240.6" y="197.55" text-anchor="end">5</text>
<text class="t" x="240.6" y="218.75" text-anchor="end">4</text>
<text class="t" x="240.6" y="239.95" text-anchor="end">3</text>
<text class="t" x="240.6" y="261.25" text-anchor="end">2</text>
<text class="t" x="240.6" y="282.55" text-anchor="end">1</text>
<text class="t" x="240.6" y="303.75" text-anchor="end">0</text>
<text class="xl" transform="translate(254.3 315.7) rotate(-30)" text-anchor="end">GPSOM</text>
<text class="xl" transform="translate(267.33 315.7) rotate(-30)" text-anchor="end">PSO</text>
<text class="xl" transform="translate(280.37 315.7) rotate(-30)" text-anchor="end">PSOLC</text>
<text class="xl" transform="translate(293.4 315.7) rotate(-30)" text-anchor="end">HFPSO</text>
<text class="xl" transform="translate(306.43 315.7) rotate(-30)" text-anchor="end">COA</text>
<text class="xl" transform="translate(319.47 315.7) rotate(-30)" text-anchor="end">SHO</text>
<text class="xl" transform="translate(332.5 315.7) rotate(-30)" text-anchor="end">MNEARO</text>
<text class="xl" transform="translate(345.53 315.7) rotate(-30)" text-anchor="end">MTDE</text>
<text class="xl" transform="translate(358.57 315.7) rotate(-30)" text-anchor="end">LSHADE</text>
<text class="xl" transform="translate(371.6 315.7) rotate(-30)" text-anchor="end">MPSO</text>
<text class="xl" transform="translate(384.63 315.7) rotate(-30)" text-anchor="end">dFDB_MRFO</text>
<text class="xl" transform="translate(397.67 315.7) rotate(-30)" text-anchor="end">SGA</text>
<text class="xl" transform="translate(410.7 315.7) rotate(-30)" text-anchor="end">TTAO</text>
<text class="xl" transform="translate(423.73 315.7) rotate(-30)" text-anchor="end">BWOG</text>
<text class="xl" transform="translate(436.77 315.7) rotate(-30)" text-anchor="end">DE</text>
<text class="xl" transform="translate(449.8 315.7) rotate(-30)" text-anchor="end">TLBO</text>
<text class="ti" x="348.1" y="177.8" text-anchor="middle">F5</text>
<text class="ex" x="244.1" y="179">×10<tspan dx="0.3" dy="-3.7" font-size="6">8</tspan></text>
<text class="yl" transform="translate(234.2 243.8) rotate(-90)" text-anchor="middle">Fitness value</text>
</g>
<g>
<path class="w" d="M483.5 294V290.5"/>
<path class="w" d="M483.5 299.6V301.3"/>
<path class="c" d="M481.9 290.5H485.1M481.9 301.3H485.1"/>
<rect class="b" x="480.32" y="294" width="6.35" height="5.6" fill="#f4a6ae"/>
<path class="m" d="M480.82 296.6H486.18"/>
<path class="o" d="M481.8 285.6H485.2M483.5 283.9V287.3"/>
<path class="w" d="M496.2 228.4V215.5"/>
<path class="w" d="M496.2 250.9V261.9"/>
<path class="c" d="M494.6 215.5H497.8M494.6 261.9H497.8"/>
<rect class="b" x="493.02" y="228.4" width="6.35" height="22.5" fill="#f9d3b4"/>
<path class="m" d="M493.52 246.5H498.88"/>
<path class="w" d="M508.9 276.4V271.9"/>
<path class="w" d="M508.9 284.7V289.4"/>
<path class="c" d="M507.3 271.9H510.5M507.3 289.4H510.5"/>
<rect class="b" x="505.72" y="276.4" width="6.35" height="8.3" fill="#c06a80"/>
<path class="m" d="M506.22 279.4H511.57"/>
<path class="o" d="M507.2 297.3H510.6M508.9 295.6V299"/>
<path class="w" d="M521.6 280.3V271.9"/>
<path class="w" d="M521.6 287.3V291.2"/>
<path class="c" d="M520 271.9H523.2M520 291.2H523.2"/>
<rect class="b" x="518.43" y="280.3" width="6.35" height="7" fill="#eaa768"/>
<path class="m" d="M518.93 283.4H524.27"/>
<path class="w" d="M534.3 249V238.2"/>
<path class="w" d="M534.3 262.2V274.7"/>
<path class="c" d="M532.7 238.2H535.9M532.7 274.7H535.9"/>
<rect class="b" x="531.12" y="249" width="6.35" height="13.2" fill="#a9cbe2"/>
<path class="m" d="M531.62 254H536.97"/>
<path class="o" d="M532.6 222.8H536M534.3 221.1V224.5"/>
<path class="w" d="M547 225.4V221.1"/>
<path class="w" d="M547 243.5V255.2"/>
<path class="c" d="M545.4 221.1H548.6M545.4 255.2H548.6"/>
<rect class="b" x="543.83" y="225.4" width="6.35" height="18.1" fill="#e6d6ec"/>
<path class="m" d="M544.33 233.3H549.67"/>
<path class="w" d="M559.7 281.5V278.5"/>
<path class="w" d="M559.7 290.5V294"/>
<path class="c" d="M558.1 278.5H561.3M558.1 294H561.3"/>
<rect class="b" x="556.53" y="281.5" width="6.35" height="9" fill="#d79ad2"/>
<path class="m" d="M557.03 286.4H562.38"/>
<path class="w" d="M572.4 276.4V271.5"/>
<path class="w" d="M572.4 283.4V288.2"/>
<path class="c" d="M570.8 271.5H574M570.8 288.2H574"/>
<rect class="b" x="569.23" y="276.4" width="6.35" height="7" fill="#b9d9b2"/>
<path class="m" d="M569.73 280.3H575.07"/>
<path class="w" d="M585.1 258V254.4"/>
<path class="w" d="M585.1 261.4V263.7"/>
<path class="c" d="M583.5 254.4H586.7M583.5 263.7H586.7"/>
<rect class="b" x="581.93" y="258" width="6.35" height="3.4" fill="#f3b59a"/>
<path class="m" d="M582.43 259.6H587.77"/>
<path class="w" d="M597.8 274.2V268"/>
<path class="w" d="M597.8 279.4V286.1"/>
<path class="c" d="M596.2 268H599.4M596.2 286.1H599.4"/>
<rect class="b" x="594.62" y="274.2" width="6.35" height="5.2" fill="#a2cad8"/>
<path class="m" d="M595.12 277.1H600.47"/>
<path class="w" d="M610.5 276.8V272.8"/>
<path class="w" d="M610.5 281.5V282.9"/>
<path class="c" d="M608.9 272.8H612.1M608.9 282.9H612.1"/>
<rect class="b" x="607.33" y="276.8" width="6.35" height="4.7" fill="#a2a6c6"/>
<path class="m" d="M607.83 278.5H613.17"/>
<path class="o" d="M608.8 269.3H612.2M610.5 267.6V271"/>
<path class="w" d="M623.2 201.4V186.4"/>
<path class="w" d="M623.2 228.4V239.5"/>
<path class="c" d="M621.6 186.4H624.8M621.6 239.5H624.8"/>
<rect class="b" x="620.03" y="201.4" width="6.35" height="27" fill="#fbb98b"/>
<path class="m" d="M620.53 218.8H625.88"/>
<path class="w" d="M635.9 258V256.6"/>
<path class="w" d="M635.9 273.6V278.5"/>
<path class="c" d="M634.3 256.6H637.5M634.3 278.5H637.5"/>
<rect class="b" x="632.73" y="258" width="6.35" height="15.6" fill="#94a4e4"/>
<path class="m" d="M633.23 264.5H638.57"/>
<path class="w" d="M648.6 267.2V258"/>
<path class="w" d="M648.6 275.6V278.9"/>
<path class="c" d="M647 258H650.2M647 278.9H650.2"/>
<rect class="b" x="645.43" y="267.2" width="6.35" height="8.4" fill="#f9b48a"/>
<path class="m" d="M645.93 272.4H651.27"/>
<path class="w" d="M661.3 230.3V227.2"/>
<path class="w" d="M661.3 238.6V243.8"/>
<path class="c" d="M659.7 227.2H662.9M659.7 243.8H662.9"/>
<rect class="b" x="658.12" y="230.3" width="6.35" height="8.3" fill="#8cc9f0"/>
<path class="m" style="stroke:#a9bfe0;stroke-opacity:1" d="M658.62 235.6H663.97"/>
<path class="w" d="M674 225.4V208.4"/>
<path class="w" d="M674 243.8V250.9"/>
<path class="c" d="M672.4 208.4H675.6M672.4 250.9H675.6"/>
<rect class="b" x="670.83" y="225.4" width="6.35" height="18.4" fill="#e9ad7c"/>
<path class="m" d="M671.33 235.1H676.67"/>
<rect class="ax" x="477.7" y="180.5" width="202.7" height="126.6"/>
<path class="tk" d="M483.5 307.1v-2.9M483.5 180.5v2.9M496.2 307.1v-2.9M496.2 180.5v2.9M508.9 307.1v-2.9M508.9 180.5v2.9M521.6 307.1v-2.9M521.6 180.5v2.9M534.3 307.1v-2.9M534.3 180.5v2.9M547 307.1v-2.9M547 180.5v2.9M559.7 307.1v-2.9M559.7 180.5v2.9M572.4 307.1v-2.9M572.4 180.5v2.9M585.1 307.1v-2.9M585.1 180.5v2.9M597.8 307.1v-2.9M597.8 180.5v2.9M610.5 307.1v-2.9M610.5 180.5v2.9M623.2 307.1v-2.9M623.2 180.5v2.9M635.9 307.1v-2.9M635.9 180.5v2.9M648.6 307.1v-2.9M648.6 180.5v2.9M661.3 307.1v-2.9M661.3 180.5v2.9M674 307.1v-2.9M674 180.5v2.9M477.7 181.6h2.9M680.4 181.6h-2.9M477.7 197.4h2.9M680.4 197.4h-2.9M477.7 213.2h2.9M680.4 213.2h-2.9M477.7 229h2.9M680.4 229h-2.9M477.7 244.8h2.9M680.4 244.8h-2.9M477.7 260.6h2.9M680.4 260.6h-2.9M477.7 276.4h2.9M680.4 276.4h-2.9M477.7 292.2h2.9M680.4 292.2h-2.9"/>
<text class="t" x="474.7" y="184.05" text-anchor="end">1.8</text>
<text class="t" x="474.7" y="199.85" text-anchor="end">1.6</text>
<text class="t" x="474.7" y="215.65" text-anchor="end">1.4</text>
<text class="t" x="474.7" y="231.45" text-anchor="end">1.2</text>
<text class="t" x="474.7" y="247.25" text-anchor="end">1</text>
<text class="t" x="474.7" y="263.05" text-anchor="end">0.8</text>
<text class="t" x="474.7" y="278.85" text-anchor="end">0.6</text>
<text class="t" x="474.7" y="294.65" text-anchor="end">0.4</text>
<text class="xl" transform="translate(487.3 315.7) rotate(-30)" text-anchor="end">GPSOM</text>
<text class="xl" transform="translate(500 315.7) rotate(-30)" text-anchor="end">PSO</text>
<text class="xl" transform="translate(512.7 315.7) rotate(-30)" text-anchor="end">PSOLC</text>
<text class="xl" transform="translate(525.4 315.7) rotate(-30)" text-anchor="end">HFPSO</text>
<text class="xl" transform="translate(538.1 315.7) rotate(-30)" text-anchor="end">COA</text>
<text class="xl" transform="translate(550.8 315.7) rotate(-30)" text-anchor="end">SHO</text>
<text class="xl" transform="translate(563.5 315.7) rotate(-30)" text-anchor="end">MNEARO</text>
<text class="xl" transform="translate(576.2 315.7) rotate(-30)" text-anchor="end">MTDE</text>
<text class="xl" transform="translate(588.9 315.7) rotate(-30)" text-anchor="end">LSHADE</text>
<text class="xl" transform="translate(601.6 315.7) rotate(-30)" text-anchor="end">MPSO</text>
<text class="xl" transform="translate(614.3 315.7) rotate(-30)" text-anchor="end">dFDB_MRFO</text>
<text class="xl" transform="translate(627 315.7) rotate(-30)" text-anchor="end">SGA</text>
<text class="xl" transform="translate(639.7 315.7) rotate(-30)" text-anchor="end">TTAO</text>
<text class="xl" transform="translate(652.4 315.7) rotate(-30)" text-anchor="end">BWOG</text>
<text class="xl" transform="translate(665.1 315.7) rotate(-30)" text-anchor="end">DE</text>
<text class="xl" transform="translate(677.8 315.7) rotate(-30)" text-anchor="end">TLBO</text>
<text class="ti" x="579.05" y="177.8" text-anchor="middle">F6</text>
<text class="ex" x="478.2" y="179">×10<tspan dx="0.3" dy="-3.7" font-size="6">4</tspan></text>
<text class="yl" transform="translate(461.7 243.8) rotate(-90)" text-anchor="middle">Fitness value</text>
</g>
<g>
<path d="M29.27 472.2H35.42" stroke="#34123a" stroke-width="1.35" stroke-linecap="round"/>
<path d="M29.97 472.2H34.72" stroke="#8a2850" stroke-width="0.5"/>
<path class="w" d="M45.04 426.1V400.3"/>
<path class="w" d="M45.04 453.3V465.2"/>
<path class="c" d="M43.44 400.3H46.64M43.44 465.2H46.64"/>
<rect class="b" x="41.87" y="426.1" width="6.35" height="27.2" fill="#f9d3b4"/>
<path class="m" d="M42.37 440.1H47.71"/>
<ellipse cx="57.73" cy="470.8" rx="3.57" ry="1.1" fill="#0e0e2c"/>
<path class="o" d="M68.73 469.2H72.13M70.43 467.5V470.9"/>
<ellipse cx="70.43" cy="470.8" rx="3.57" ry="1.1" fill="#0e0e2c"/>
<path class="w" d="M83.12 466.4V465.2"/>
<path class="w" d="M83.12 469.6V470.4"/>
<path class="c" d="M81.52 465.2H84.72M81.52 470.4H84.72"/>
<rect class="b" x="79.95" y="466.4" width="6.35" height="3.2" fill="#a9cbe2"/>
<path class="m" d="M80.45 467.8H85.8"/>
<path class="w" d="M95.82 413.5V383.2"/>
<path class="w" d="M95.82 444.2V451.7"/>
<path class="c" d="M94.22 383.2H97.42M94.22 451.7H97.42"/>
<rect class="b" x="92.64" y="413.5" width="6.35" height="30.7" fill="#e6d6ec"/>
<path class="m" d="M93.14 437.5H98.49"/>
<ellipse cx="108.51" cy="471.3" rx="3.57" ry="1.1" fill="#0e0e2c"/>
<ellipse cx="121.2" cy="471.3" rx="3.57" ry="1.1" fill="#0e0e2c"/>
<path class="w" d="M133.9 428.4V427.5"/>
<path class="w" d="M133.9 435.4V445.4"/>
<path class="c" d="M132.3 427.5H135.5M132.3 445.4H135.5"/>
<rect class="b" x="130.72" y="428.4" width="6.35" height="7" fill="#f0e9d2"/>
<path class="m" d="M131.22 430.5H136.57"/>
<path class="w" d="M146.59 466.9V466.1"/>
<path class="w" d="M146.59 469.6V470.1"/>
<path class="c" d="M144.99 466.1H148.19M144.99 470.1H148.19"/>
<rect class="b" x="143.42" y="466.9" width="6.35" height="2.7" fill="#a2cad8"/>
<path class="m" d="M143.92 468.2H149.26"/>
<path class="o" d="M144.89 460.5H148.29M146.59 458.8V462.2"/>
<ellipse cx="159.28" cy="471" rx="3.57" ry="1.1" fill="#0e0e2c"/>
<path class="w" d="M171.98 446.4V434.5"/>
<path class="w" d="M171.98 460.5V467.3"/>
<path class="c" d="M170.38 434.5H173.58M170.38 467.3H173.58"/>
<rect class="b" x="168.8" y="446.4" width="6.35" height="14.1" fill="#fbb98b"/>
<path class="m" d="M169.3 454.3H174.65"/>
<path class="o" d="M182.97 465.7H186.37M184.67 464V467.4"/>
<path class="o" d="M182.97 467.3H186.37M184.67 465.6V469"/>
<path class="w" d="M184.67 468.7V468.3"/>
<path class="w" d="M184.67 470.4V470.7"/>
<path class="c" d="M183.07 468.3H186.27M183.07 470.7H186.27"/>
<rect class="b" x="181.5" y="468.7" width="6.35" height="1.7" fill="#14142e"/>
<path class="w" d="M197.37 463.4V461.3"/>
<path class="w" d="M197.37 466.9V467.8"/>
<path class="c" d="M195.77 461.3H198.97M195.77 467.8H198.97"/>
<rect class="b" x="194.19" y="463.4" width="6.35" height="3.5" fill="#f9b48a"/>
<path class="m" d="M194.69 464.8H200.04"/>
<path class="w" d="M210.06 465.2V463.4"/>
<path class="w" d="M210.06 468.7V469.6"/>
<path class="c" d="M208.46 463.4H211.66M208.46 469.6H211.66"/>
<rect class="b" x="206.89" y="465.2" width="6.35" height="3.5" fill="#5f93c6"/>
<path class="m" style="stroke:#9fd6f6;stroke-opacity:1" d="M207.39 466.9H212.73"/>
<path class="w" d="M222.75 388.4V357.4"/>
<path class="w" d="M222.75 433.3V441.9"/>
<path class="c" d="M221.15 357.4H224.35M221.15 441.9H224.35"/>
<rect class="b" x="219.58" y="388.4" width="6.35" height="44.9" fill="#e9ad7c"/>
<path class="m" d="M220.08 421.4H225.43"/>
<rect class="ax" x="26" y="351.2" width="203.1" height="126.8"/>
<path class="tk" d="M32.35 478v-2.9M32.35 351.2v2.9M45.04 478v-2.9M45.04 351.2v2.9M57.73 478v-2.9M57.73 351.2v2.9M70.43 478v-2.9M70.43 351.2v2.9M83.12 478v-2.9M83.12 351.2v2.9M95.82 478v-2.9M95.82 351.2v2.9M108.51 478v-2.9M108.51 351.2v2.9M121.2 478v-2.9M121.2 351.2v2.9M133.9 478v-2.9M133.9 351.2v2.9M146.59 478v-2.9M146.59 351.2v2.9M159.28 478v-2.9M159.28 351.2v2.9M171.98 478v-2.9M171.98 351.2v2.9M184.67 478v-2.9M184.67 351.2v2.9M197.37 478v-2.9M197.37 351.2v2.9M210.06 478v-2.9M210.06 351.2v2.9M222.75 478v-2.9M222.75 351.2v2.9M26 363.4h2.9M229.1 363.4h-2.9M26 390.6h2.9M229.1 390.6h-2.9M26 417.9h2.9M229.1 417.9h-2.9M26 445h2.9M229.1 445h-2.9M26 472.2h2.9M229.1 472.2h-2.9"/>
<text class="t" x="23" y="365.85" text-anchor="end">2</text>
<text class="t" x="23" y="393.05" text-anchor="end">1.5</text>
<text class="t" x="23" y="420.35" text-anchor="end">1</text>
<text class="t" x="23" y="447.45" text-anchor="end">0.5</text>
<text class="t" x="23" y="474.65" text-anchor="end">0</text>
<text class="xl" transform="translate(36.15 486.6) rotate(-30)" text-anchor="end">GPSOM</text>
<text class="xl" transform="translate(48.84 486.6) rotate(-30)" text-anchor="end">PSO</text>
<text class="xl" transform="translate(61.53 486.6) rotate(-30)" text-anchor="end">PSOLC</text>
<text class="xl" transform="translate(74.23 486.6) rotate(-30)" text-anchor="end">HFPSO</text>
<text class="xl" transform="translate(86.92 486.6) rotate(-30)" text-anchor="end">COA</text>
<text class="xl" transform="translate(99.62 486.6) rotate(-30)" text-anchor="end">SHO</text>
<text class="xl" transform="translate(112.31 486.6) rotate(-30)" text-anchor="end">MNEARO</text>
<text class="xl" transform="translate(125 486.6) rotate(-30)" text-anchor="end">MTDE</text>
<text class="xl" transform="translate(137.7 486.6) rotate(-30)" text-anchor="end">LSHADE</text>
<text class="xl" transform="translate(150.39 486.6) rotate(-30)" text-anchor="end">MPSO</text>
<text class="xl" transform="translate(163.08 486.6) rotate(-30)" text-anchor="end">dFDB_MRFO</text>
<text class="xl" transform="translate(175.78 486.6) rotate(-30)" text-anchor="end">SGA</text>
<text class="xl" transform="translate(188.47 486.6) rotate(-30)" text-anchor="end">TTAO</text>
<text class="xl" transform="translate(201.17 486.6) rotate(-30)" text-anchor="end">BWOG</text>
<text class="xl" transform="translate(213.86 486.6) rotate(-30)" text-anchor="end">DE</text>
<text class="xl" transform="translate(226.55 486.6) rotate(-30)" text-anchor="end">TLBO</text>
<text class="ti" x="127.55" y="348.5" text-anchor="middle">F7</text>
<text class="ex" x="26.5" y="349.7">×10<tspan dx="0.3" dy="-3.7" font-size="6">8</tspan></text>
<text class="yl" transform="translate(10.8 414.6) rotate(-90)" text-anchor="middle">Fitness value</text>
</g>
<g>
<path class="w" d="M260.2 443.3V415.2"/>
<path class="w" d="M260.2 465.2V465.5"/>
<path class="c" d="M258.6 415.2H261.8M258.6 465.5H261.8"/>
<rect class="b" x="257.03" y="443.3" width="6.34" height="21.9" fill="#f4a6ae"/>
<path class="m" d="M257.53 464.4H262.87"/>
<path class="w" d="M272.88 403.3V397.7"/>
<path class="w" d="M272.88 408.6V413"/>
<path class="c" d="M271.28 397.7H274.48M271.28 413H274.48"/>
<rect class="b" x="269.71" y="403.3" width="6.34" height="5.3" fill="#f9d3b4"/>
<path class="m" d="M270.21 405.6H275.55"/>
<path class="o" d="M271.18 415.5H274.58M272.88 413.8V417.2"/>
<path class="o" d="M271.18 419H274.58M272.88 417.3V420.7"/>
<path class="w" d="M285.56 417.4V414.5"/>
<path class="w" d="M285.56 422.8V427"/>
<path class="c" d="M283.96 414.5H287.16M283.96 427H287.16"/>
<rect class="b" x="282.39" y="417.4" width="6.34" height="5.4" fill="#c06a80"/>
<path class="m" d="M282.89 419.6H288.23"/>
<path class="w" d="M298.24 417.4V411.5"/>
<path class="w" d="M298.24 423.5V425.4"/>
<path class="c" d="M296.64 411.5H299.84M296.64 425.4H299.84"/>
<rect class="b" x="295.07" y="417.4" width="6.34" height="6.1" fill="#eaa768"/>
<path class="m" d="M295.57 420.2H300.91"/>
<path class="o" d="M296.54 464.8H299.94M298.24 463.1V466.5"/>
<path class="w" d="M310.92 383.5V377.6"/>
<path class="w" d="M310.92 396.3V401.9"/>
<path class="c" d="M309.32 377.6H312.52M309.32 401.9H312.52"/>
<rect class="b" x="307.75" y="383.5" width="6.34" height="12.8" fill="#a9cbe2"/>
<path class="m" d="M308.25 387.6H313.59"/>
<path class="w" d="M323.6 390.5V388.4"/>
<path class="w" d="M323.6 394.2V396.3"/>
<path class="c" d="M322 388.4H325.2M322 396.3H325.2"/>
<rect class="b" x="320.43" y="390.5" width="6.34" height="3.7" fill="#e6d6ec"/>
<path class="m" d="M320.93 392.3H326.27"/>
<path class="o" d="M321.9 401H325.3M323.6 399.3V402.7"/>
<path class="w" d="M336.28 370.4V368.3"/>
<path class="w" d="M336.28 412.4V421.3"/>
<path class="c" d="M334.68 368.3H337.88M334.68 421.3H337.88"/>
<rect class="b" x="333.11" y="370.4" width="6.34" height="42" fill="#d79ad2"/>
<path class="m" d="M333.61 371.8H338.95"/>
<path class="w" d="M348.96 412.6V408.6"/>
<path class="w" d="M348.96 415.9V418.2"/>
<path class="c" d="M347.36 408.6H350.56M347.36 418.2H350.56"/>
<rect class="b" x="345.79" y="412.6" width="6.34" height="3.3" fill="#b9d9b2"/>
<path class="m" d="M346.29 414.2H351.63"/>
<path class="w" d="M361.64 401.2V399.5"/>
<path class="w" d="M361.64 405.6V406.5"/>
<path class="c" d="M360.04 399.5H363.24M360.04 406.5H363.24"/>
<rect class="b" x="358.47" y="401.2" width="6.34" height="4.4" fill="#f0e9d2"/>
<path class="m" d="M358.97 403.3H364.31"/>
<path class="o" d="M359.94 367.4H363.34M361.64 365.7V369.1"/>
<path class="o" d="M359.94 395.4H363.34M361.64 393.7V397.1"/>
<path class="o" d="M359.94 411.3H363.34M361.64 409.6V413"/>
<path class="w" d="M374.32 399.5V394"/>
<path class="w" d="M374.32 411.2V413"/>
<path class="c" d="M372.72 394H375.92M372.72 413H375.92"/>
<rect class="b" x="371.15" y="399.5" width="6.34" height="11.7" fill="#a2cad8"/>
<path class="m" d="M371.65 407.2H376.99"/>
<path class="o" d="M372.62 453.4H376.02M374.32 451.7V455.1"/>
<path class="o" d="M372.62 460.5H376.02M374.32 458.8V462.2"/>
<path class="w" d="M387 411.2V405.4"/>
<path class="w" d="M387 417.4V419.6"/>
<path class="c" d="M385.4 405.4H388.6M385.4 419.6H388.6"/>
<rect class="b" x="383.83" y="411.2" width="6.34" height="6.2" fill="#a2a6c6"/>
<path class="m" d="M384.33 413.3H389.67"/>
<path class="o" d="M385.3 427.5H388.7M387 425.8V429.2"/>
<path class="w" d="M399.68 389.7V387.2"/>
<path class="w" d="M399.68 396.3V401"/>
<path class="c" d="M398.08 387.2H401.28M398.08 401H401.28"/>
<rect class="b" x="396.51" y="389.7" width="6.34" height="6.6" fill="#fbb98b"/>
<path class="m" d="M397.01 390.7H402.35"/>
<path class="o" d="M397.98 370.9H401.38M399.68 369.2V372.6"/>
<path class="w" d="M412.36 391.4V389.8"/>
<path class="w" d="M412.36 394V395.1"/>
<path class="c" d="M410.76 389.8H413.96M410.76 395.1H413.96"/>
<rect class="b" x="409.19" y="391.4" width="6.34" height="2.6" fill="#94a4e4"/>
<path class="m" d="M409.69 392.5H415.03"/>
<path class="o" d="M410.66 397.2H414.06M412.36 395.5V398.9"/>
<path class="w" d="M425.04 411.7V408.9"/>
<path class="w" d="M425.04 419.1V422.2"/>
<path class="c" d="M423.44 408.9H426.64M423.44 422.2H426.64"/>
<rect class="b" x="421.87" y="411.7" width="6.34" height="7.4" fill="#f9b48a"/>
<path class="m" d="M422.37 413.3H427.71"/>
<path class="o" d="M436.02 371.4H439.42M437.72 369.7V373.1"/>
<path class="o" d="M436.02 372.3H439.42M437.72 370.6V374"/>
<path class="w" d="M437.72 367.4V366.9"/>
<path class="w" d="M437.72 369.3V370"/>
<path class="c" d="M436.12 366.9H439.32M436.12 370H439.32"/>
<rect class="b" x="434.55" y="367.4" width="6.34" height="1.9" fill="#14142e"/>
<path class="w" d="M450.4 390.5V382.3"/>
<path class="w" d="M450.4 395.4V397.2"/>
<path class="c" d="M448.8 382.3H452M448.8 397.2H452"/>
<rect class="b" x="447.23" y="390.5" width="6.34" height="4.9" fill="#e9ad7c"/>
<path class="m" d="M447.73 392.8H453.07"/>
<rect class="ax" x="253.4" y="351.2" width="203.3" height="126.8"/>
<path class="tk" d="M260.2 478v-2.9M260.2 351.2v2.9M272.88 478v-2.9M272.88 351.2v2.9M285.56 478v-2.9M285.56 351.2v2.9M298.24 478v-2.9M298.24 351.2v2.9M310.92 478v-2.9M310.92 351.2v2.9M323.6 478v-2.9M323.6 351.2v2.9M336.28 478v-2.9M336.28 351.2v2.9M348.96 478v-2.9M348.96 351.2v2.9M361.64 478v-2.9M361.64 351.2v2.9M374.32 478v-2.9M374.32 351.2v2.9M387 478v-2.9M387 351.2v2.9M399.68 478v-2.9M399.68 351.2v2.9M412.36 478v-2.9M412.36 351.2v2.9M425.04 478v-2.9M425.04 351.2v2.9M437.72 478v-2.9M437.72 351.2v2.9M450.4 478v-2.9M450.4 351.2v2.9M253.4 353.4h2.9M456.7 353.4h-2.9M253.4 368.2h2.9M456.7 368.2h-2.9M253.4 383h2.9M456.7 383h-2.9M253.4 397.8h2.9M456.7 397.8h-2.9M253.4 412.6h2.9M456.7 412.6h-2.9M253.4 427.4h2.9M456.7 427.4h-2.9M253.4 442.2h2.9M456.7 442.2h-2.9M253.4 457h2.9M456.7 457h-2.9M253.4 471.7h2.9M456.7 471.7h-2.9"/>
<text class="t" x="250.4" y="355.85" text-anchor="end">4</text>
<text class="t" x="250.4" y="370.65" text-anchor="end">3.5</text>
<text class="t" x="250.4" y="385.45" text-anchor="end">3</text>
<text class="t" x="250.4" y="400.25" text-anchor="end">2.5</text>
<text class="t" x="250.4" y="415.05" text-anchor="end">2</text>
<text class="t" x="250.4" y="429.85" text-anchor="end">1.5</text>
<text class="t" x="250.4" y="444.65" text-anchor="end">1</text>
<text class="t" x="250.4" y="459.45" text-anchor="end">0.5</text>
<text class="t" x="250.4" y="474.15" text-anchor="end">0</text>
<text class="xl" transform="translate(264 486.6) rotate(-30)" text-anchor="end">GPSOM</text>
<text class="xl" transform="translate(276.68 486.6) rotate(-30)" text-anchor="end">PSO</text>
<text class="xl" transform="translate(289.36 486.6) rotate(-30)" text-anchor="end">PSOLC</text>
<text class="xl" transform="translate(302.04 486.6) rotate(-30)" text-anchor="end">HFPSO</text>
<text class="xl" transform="translate(314.72 486.6) rotate(-30)" text-anchor="end">COA</text>
<text class="xl" transform="translate(327.4 486.6) rotate(-30)" text-anchor="end">SHO</text>
<text class="xl" transform="translate(340.08 486.6) rotate(-30)" text-anchor="end">MNEARO</text>
<text class="xl" transform="translate(352.76 486.6) rotate(-30)" text-anchor="end">MTDE</text>
<text class="xl" transform="translate(365.44 486.6) rotate(-30)" text-anchor="end">LSHADE</text>
<text class="xl" transform="translate(378.12 486.6) rotate(-30)" text-anchor="end">MPSO</text>
<text class="xl" transform="translate(390.8 486.6) rotate(-30)" text-anchor="end">dFDB_MRFO</text>
<text class="xl" transform="translate(403.48 486.6) rotate(-30)" text-anchor="end">SGA</text>
<text class="xl" transform="translate(416.16 486.6) rotate(-30)" text-anchor="end">TTAO</text>
<text class="xl" transform="translate(428.84 486.6) rotate(-30)" text-anchor="end">BWOG</text>
<text class="xl" transform="translate(441.52 486.6) rotate(-30)" text-anchor="end">DE</text>
<text class="xl" transform="translate(454.2 486.6) rotate(-30)" text-anchor="end">TLBO</text>
<text class="ti" x="355.05" y="348.5" text-anchor="middle">F8</text>
<text class="ex" x="253.9" y="349.7">×10<tspan dx="0.3" dy="-3.7" font-size="6">4</tspan></text>
<text class="yl" transform="translate(238.4 414.6) rotate(-90)" text-anchor="middle">Fitness value</text>
</g>
<g>
<path class="w" d="M493.35 465.7V462.6"/>
<path class="w" d="M493.35 469.6V472.2"/>
<path class="c" d="M491.75 462.6H494.95M491.75 472.2H494.95"/>
<rect class="b" x="490.28" y="465.7" width="6.15" height="3.9" fill="#f4a6ae"/>
<path class="m" d="M490.78 467.8H495.93"/>
<path class="w" d="M505.66 402.4V386.3"/>
<path class="w" d="M505.66 418.2V424.9"/>
<path class="c" d="M504.06 386.3H507.26M504.06 424.9H507.26"/>
<rect class="b" x="502.58" y="402.4" width="6.15" height="15.8" fill="#f9d3b4"/>
<path class="m" d="M503.08 410.3H508.24"/>
<path class="w" d="M517.97 463.1V460.8"/>
<path class="w" d="M517.97 466.9V468.3"/>
<path class="c" d="M516.37 460.8H519.57M516.37 468.3H519.57"/>
<rect class="b" x="514.89" y="463.1" width="6.15" height="3.8" fill="#c06a80"/>
<path class="m" d="M515.39 465.2H520.54"/>
<path class="o" d="M516.27 457.3H519.67M517.97 455.6V459"/>
<path class="w" d="M530.27 434.5V424.4"/>
<path class="w" d="M530.27 445.6V452"/>
<path class="c" d="M528.67 424.4H531.87M528.67 452H531.87"/>
<rect class="b" x="527.2" y="434.5" width="6.15" height="11.1" fill="#eaa768"/>
<path class="m" d="M527.7 440.3H532.85"/>
<path class="o" d="M528.57 386.3H531.97M530.27 384.6V388"/>
<path class="o" d="M528.57 401.2H531.97M530.27 399.5V402.9"/>
<path class="w" d="M542.58 432.2V420.2"/>
<path class="w" d="M542.58 442.8V452"/>
<path class="c" d="M540.98 420.2H544.18M540.98 452H544.18"/>
<rect class="b" x="539.5" y="432.2" width="6.15" height="10.6" fill="#a9cbe2"/>
<path class="m" d="M540 438H545.15"/>
<path class="w" d="M554.88 395.4V382.7"/>
<path class="w" d="M554.88 407.4V417.4"/>
<path class="c" d="M553.28 382.7H556.48M553.28 417.4H556.48"/>
<rect class="b" x="551.81" y="395.4" width="6.15" height="12" fill="#e6d6ec"/>
<path class="m" d="M552.31 402.4H557.46"/>
<path class="w" d="M567.19 463.8V462"/>
<path class="w" d="M567.19 467.3V469.2"/>
<path class="c" d="M565.59 462H568.79M565.59 469.2H568.79"/>
<rect class="b" x="564.11" y="463.8" width="6.15" height="3.5" fill="#d79ad2"/>
<path class="m" d="M564.61 465.5H569.77"/>
<path class="w" d="M579.5 462V459.6"/>
<path class="w" d="M579.5 464.7V466.4"/>
<path class="c" d="M577.9 459.6H581.1M577.9 466.4H581.1"/>
<rect class="b" x="576.42" y="462" width="6.15" height="2.7" fill="#f0a070"/>
<path class="m" d="M576.92 463.4H582.07"/>
<path class="w" d="M591.8 404.2V403.3"/>
<path class="w" d="M591.8 414.6V418.4"/>
<path class="c" d="M590.2 403.3H593.4M590.2 418.4H593.4"/>
<rect class="b" x="588.73" y="404.2" width="6.15" height="10.4" fill="#f0e9d2"/>
<path class="m" d="M589.23 409.5H594.38"/>
<path class="w" d="M604.11 458.2V452.9"/>
<path class="w" d="M604.11 465.2V467.8"/>
<path class="c" d="M602.51 452.9H605.71M602.51 467.8H605.71"/>
<rect class="b" x="601.03" y="458.2" width="6.15" height="7" fill="#a2cad8"/>
<path class="m" d="M601.53 461.7H606.69"/>
<path class="o" d="M602.41 447.3H605.81M604.11 445.6V449"/>
<path class="w" d="M616.42 450.6V446.4"/>
<path class="w" d="M616.42 455.6V460.8"/>
<path class="c" d="M614.82 446.4H618.02M614.82 460.8H618.02"/>
<rect class="b" x="613.34" y="450.6" width="6.15" height="5" fill="#a2a6c6"/>
<path class="m" d="M613.84 452.9H618.99"/>
<path class="w" d="M628.72 389V375.6"/>
<path class="w" d="M628.72 406.8V428"/>
<path class="c" d="M627.12 375.6H630.32M627.12 428H630.32"/>
<rect class="b" x="625.65" y="389" width="6.15" height="17.8" fill="#fbb98b"/>
<path class="m" d="M626.15 397.5H631.3"/>
<path class="w" d="M641.03 449.9V446.8"/>
<path class="w" d="M641.03 455.9V458.5"/>
<path class="c" d="M639.43 446.8H642.63M639.43 458.5H642.63"/>
<rect class="b" x="637.95" y="449.9" width="6.15" height="6" fill="#94a4e4"/>
<path class="m" d="M638.45 452.9H643.6"/>
<path class="w" d="M653.33 451.5V448.2"/>
<path class="w" d="M653.33 455.6V457.8"/>
<path class="c" d="M651.73 448.2H654.93M651.73 457.8H654.93"/>
<rect class="b" x="650.26" y="451.5" width="6.15" height="4.1" fill="#f9b48a"/>
<path class="m" d="M650.76 453.3H655.91"/>
<path class="w" d="M665.64 449.9V448.5"/>
<path class="w" d="M665.64 452V453.3"/>
<path class="c" d="M664.04 448.5H667.24M664.04 453.3H667.24"/>
<rect class="b" x="662.56" y="449.9" width="6.15" height="2.1" fill="#14142e"/>
<path class="w" d="M677.95 380.9V365.1"/>
<path class="w" d="M677.95 395.8V407.2"/>
<path class="c" d="M676.35 365.1H679.55M676.35 407.2H679.55"/>
<rect class="b" x="674.87" y="380.9" width="6.15" height="14.9" fill="#e9ad7c"/>
<path class="m" d="M675.37 386.7H680.52"/>
<path class="o" d="M676.25 356.9H679.65M677.95 355.2V358.6"/>
<rect class="ax" x="487.2" y="351.2" width="196.9" height="126.8"/>
<path class="tk" d="M493.35 478v-2.9M493.35 351.2v2.9M505.66 478v-2.9M505.66 351.2v2.9M517.97 478v-2.9M517.97 351.2v2.9M530.27 478v-2.9M530.27 351.2v2.9M542.58 478v-2.9M542.58 351.2v2.9M554.88 478v-2.9M554.88 351.2v2.9M567.19 478v-2.9M567.19 351.2v2.9M579.5 478v-2.9M579.5 351.2v2.9M591.8 478v-2.9M591.8 351.2v2.9M604.11 478v-2.9M604.11 351.2v2.9M616.42 478v-2.9M616.42 351.2v2.9M628.72 478v-2.9M628.72 351.2v2.9M641.03 478v-2.9M641.03 351.2v2.9M653.33 478v-2.9M653.33 351.2v2.9M665.64 478v-2.9M665.64 351.2v2.9M677.95 478v-2.9M677.95 351.2v2.9M487.2 372.3h2.9M684.1 372.3h-2.9M487.2 394.6h2.9M684.1 394.6h-2.9M487.2 416.8h2.9M684.1 416.8h-2.9M487.2 439h2.9M684.1 439h-2.9M487.2 461.3h2.9M684.1 461.3h-2.9"/>
<text class="t" x="484.2" y="374.75" text-anchor="end">8000</text>
<text class="t" x="484.2" y="397.05" text-anchor="end">7000</text>
<text class="t" x="484.2" y="419.25" text-anchor="end">6000</text>
<text class="t" x="484.2" y="441.45" text-anchor="end">5000</text>
<text class="t" x="484.2" y="463.75" text-anchor="end">4000</text>
<text class="xl" transform="translate(497.15 486.6) rotate(-30)" text-anchor="end">GPSOM</text>
<text class="xl" transform="translate(509.46 486.6) rotate(-30)" text-anchor="end">PSO</text>
<text class="xl" transform="translate(521.77 486.6) rotate(-30)" text-anchor="end">PSOLC</text>
<text class="xl" transform="translate(534.07 486.6) rotate(-30)" text-anchor="end">HFPSO</text>
<text class="xl" transform="translate(546.38 486.6) rotate(-30)" text-anchor="end">COA</text>
<text class="xl" transform="translate(558.68 486.6) rotate(-30)" text-anchor="end">SHO</text>
<text class="xl" transform="translate(570.99 486.6) rotate(-30)" text-anchor="end">MNEARO</text>
<text class="xl" transform="translate(583.3 486.6) rotate(-30)" text-anchor="end">MTDE</text>
<text class="xl" transform="translate(595.6 486.6) rotate(-30)" text-anchor="end">LSHADE</text>
<text class="xl" transform="translate(607.91 486.6) rotate(-30)" text-anchor="end">MPSO</text>
<text class="xl" transform="translate(620.22 486.6) rotate(-30)" text-anchor="end">dFDB_MRFO</text>
<text class="xl" transform="translate(632.52 486.6) rotate(-30)" text-anchor="end">SGA</text>
<text class="xl" transform="translate(644.83 486.6) rotate(-30)" text-anchor="end">TTAO</text>
<text class="xl" transform="translate(657.13 486.6) rotate(-30)" text-anchor="end">BWOG</text>
<text class="xl" transform="translate(669.44 486.6) rotate(-30)" text-anchor="end">DE</text>
<text class="xl" transform="translate(681.75 486.6) rotate(-30)" text-anchor="end">TLBO</text>
<text class="ti" x="585.65" y="348.5" text-anchor="middle">F9</text>
<text class="yl" transform="translate(466.2 414.6) rotate(-90)" text-anchor="middle">Fitness value</text>
</g>
<g>
<ellipse cx="260.05" cy="642.4" rx="3.57" ry="0.8" fill="#0e0e2c"/>
<path class="w" d="M272.75 555.8V527.4"/>
<path class="w" d="M272.75 583.3V598.1"/>
<path class="c" d="M271.15 527.4H274.35M271.15 598.1H274.35"/>
<rect class="b" x="269.57" y="555.8" width="6.35" height="27.5" fill="#f9d3b4"/>
<path class="m" d="M270.07 569.3H275.43"/>
<ellipse cx="285.45" cy="642.1" rx="3.57" ry="0.8" fill="#0e0e2c"/>
<ellipse cx="298.15" cy="642.1" rx="3.57" ry="0.8" fill="#0e0e2c"/>
<path class="w" d="M310.85 635.4V634.6"/>
<path class="w" d="M310.85 638.6V639"/>
<path class="c" d="M309.25 634.6H312.45M309.25 639H312.45"/>
<rect class="b" x="307.67" y="635.4" width="6.35" height="3.2" fill="#a9cbe2"/>
<path class="m" d="M308.17 637.2H313.52"/>
<path class="o" d="M309.15 631.4H312.55M310.85 629.7V633.1"/>
<path class="w" d="M323.55 585.6V576.5"/>
<path class="w" d="M323.55 594.3V605.6"/>
<path class="c" d="M321.95 576.5H325.15M321.95 605.6H325.15"/>
<rect class="b" x="320.37" y="585.6" width="6.35" height="8.7" fill="#e6d6ec"/>
<path class="m" d="M320.87 591.4H326.22"/>
<ellipse cx="336.25" cy="641.2" rx="3.57" ry="0.8" fill="#0e0e2c"/>
<ellipse cx="348.95" cy="640.3" rx="3.57" ry="1.15" fill="#0e0e2c"/>
<path class="w" d="M361.65 623.8V623.4"/>
<path class="w" d="M361.65 625.7V626.1"/>
<path class="c" d="M360.05 623.4H363.25M360.05 626.1H363.25"/>
<rect class="b" x="358.47" y="623.8" width="6.35" height="1.9" fill="#2a1626"/>
<path class="w" d="M374.35 628.4V624"/>
<path class="w" d="M374.35 633.7V638.4"/>
<path class="c" d="M372.75 624H375.95M372.75 638.4H375.95"/>
<rect class="b" x="371.17" y="628.4" width="6.35" height="5.3" fill="#a2cad8"/>
<path class="m" d="M371.67 631H377.02"/>
<ellipse cx="387.05" cy="642.1" rx="3.57" ry="0.8" fill="#0e0e2c"/>
<path class="w" d="M399.75 627V625.4"/>
<path class="w" d="M399.75 631V634.2"/>
<path class="c" d="M398.15 625.4H401.35M398.15 634.2H401.35"/>
<rect class="b" x="396.57" y="627" width="6.35" height="4" fill="#fbb98b"/>
<path class="m" d="M397.07 628.9H402.43"/>
<ellipse cx="412.45" cy="641" rx="3.57" ry="0.8" fill="#0e0e2c"/>
<path class="o" d="M423.45 641.5H426.85M425.15 639.8V643.2"/>
<ellipse cx="425.15" cy="640.8" rx="3.57" ry="0.95" fill="#0e0e2c"/>
<path class="o" d="M436.15 639.3H439.55M437.85 637.6V641"/>
<ellipse cx="437.85" cy="640.3" rx="3.57" ry="1" fill="#0e0e2c"/>
<path class="w" d="M450.55 564.6V550.9"/>
<path class="w" d="M450.55 583V595.7"/>
<path class="c" d="M448.95 550.9H452.15M448.95 595.7H452.15"/>
<rect class="b" x="447.37" y="564.6" width="6.35" height="18.4" fill="#e9ad7c"/>
<path class="m" d="M447.87 572.4H453.22"/>
<path class="o" d="M448.85 536.9H452.25M450.55 535.2V538.6"/>
<rect class="ax" x="253.7" y="521.6" width="203.2" height="126.6"/>
<path class="tk" d="M260.05 648.2v-2.9M260.05 521.6v2.9M272.75 648.2v-2.9M272.75 521.6v2.9M285.45 648.2v-2.9M285.45 521.6v2.9M298.15 648.2v-2.9M298.15 521.6v2.9M310.85 648.2v-2.9M310.85 521.6v2.9M323.55 648.2v-2.9M323.55 521.6v2.9M336.25 648.2v-2.9M336.25 521.6v2.9M348.95 648.2v-2.9M348.95 521.6v2.9M361.65 648.2v-2.9M361.65 521.6v2.9M374.35 648.2v-2.9M374.35 521.6v2.9M387.05 648.2v-2.9M387.05 521.6v2.9M399.75 648.2v-2.9M399.75 521.6v2.9M412.45 648.2v-2.9M412.45 521.6v2.9M425.15 648.2v-2.9M425.15 521.6v2.9M437.85 648.2v-2.9M437.85 521.6v2.9M450.55 648.2v-2.9M450.55 521.6v2.9M253.7 534.8h2.9M456.9 534.8h-2.9M253.7 555h2.9M456.9 555h-2.9M253.7 575.1h2.9M456.9 575.1h-2.9M253.7 595.2h2.9M456.9 595.2h-2.9M253.7 615.4h2.9M456.9 615.4h-2.9M253.7 635.7h2.9M456.9 635.7h-2.9"/>
<text class="t" x="250.7" y="537.25" text-anchor="end">3</text>
<text class="t" x="250.7" y="557.45" text-anchor="end">2.5</text>
<text class="t" x="250.7" y="577.55" text-anchor="end">2</text>
<text class="t" x="250.7" y="597.65" text-anchor="end">1.5</text>
<text class="t" x="250.7" y="617.85" text-anchor="end">1</text>
<text class="t" x="250.7" y="638.15" text-anchor="end">0.5</text>
<text class="xl" transform="translate(263.85 656.8) rotate(-30)" text-anchor="end">GPSOM</text>
<text class="xl" transform="translate(276.55 656.8) rotate(-30)" text-anchor="end">PSO</text>
<text class="xl" transform="translate(289.25 656.8) rotate(-30)" text-anchor="end">PSOLC</text>
<text class="xl" transform="translate(301.95 656.8) rotate(-30)" text-anchor="end">HFPSO</text>
<text class="xl" transform="translate(314.65 656.8) rotate(-30)" text-anchor="end">COA</text>
<text class="xl" transform="translate(327.35 656.8) rotate(-30)" text-anchor="end">SHO</text>
<text class="xl" transform="translate(340.05 656.8) rotate(-30)" text-anchor="end">MNEARO</text>
<text class="xl" transform="translate(352.75 656.8) rotate(-30)" text-anchor="end">MTDE</text>
<text class="xl" transform="translate(365.45 656.8) rotate(-30)" text-anchor="end">LSHADE</text>
<text class="xl" transform="translate(378.15 656.8) rotate(-30)" text-anchor="end">MPSO</text>
<text class="xl" transform="translate(390.85 656.8) rotate(-30)" text-anchor="end">dFDB_MRFO</text>
<text class="xl" transform="translate(403.55 656.8) rotate(-30)" text-anchor="end">SGA</text>
<text class="xl" transform="translate(416.25 656.8) rotate(-30)" text-anchor="end">TTAO</text>
<text class="xl" transform="translate(428.95 656.8) rotate(-30)" text-anchor="end">BWOG</text>
<text class="xl" transform="translate(441.65 656.8) rotate(-30)" text-anchor="end">DE</text>
<text class="xl" transform="translate(454.35 656.8) rotate(-30)" text-anchor="end">TLBO</text>
<text class="ti" x="355.3" y="518.9" text-anchor="middle">F10</text>
<text class="ex" x="254.2" y="520.1">×10<tspan dx="0.3" dy="-3.7" font-size="6">4</tspan></text>
<text class="yl" transform="translate(238.2 584.9) rotate(-90)" text-anchor="middle">Fitness value</text>
</g>
</svg></body></html>
